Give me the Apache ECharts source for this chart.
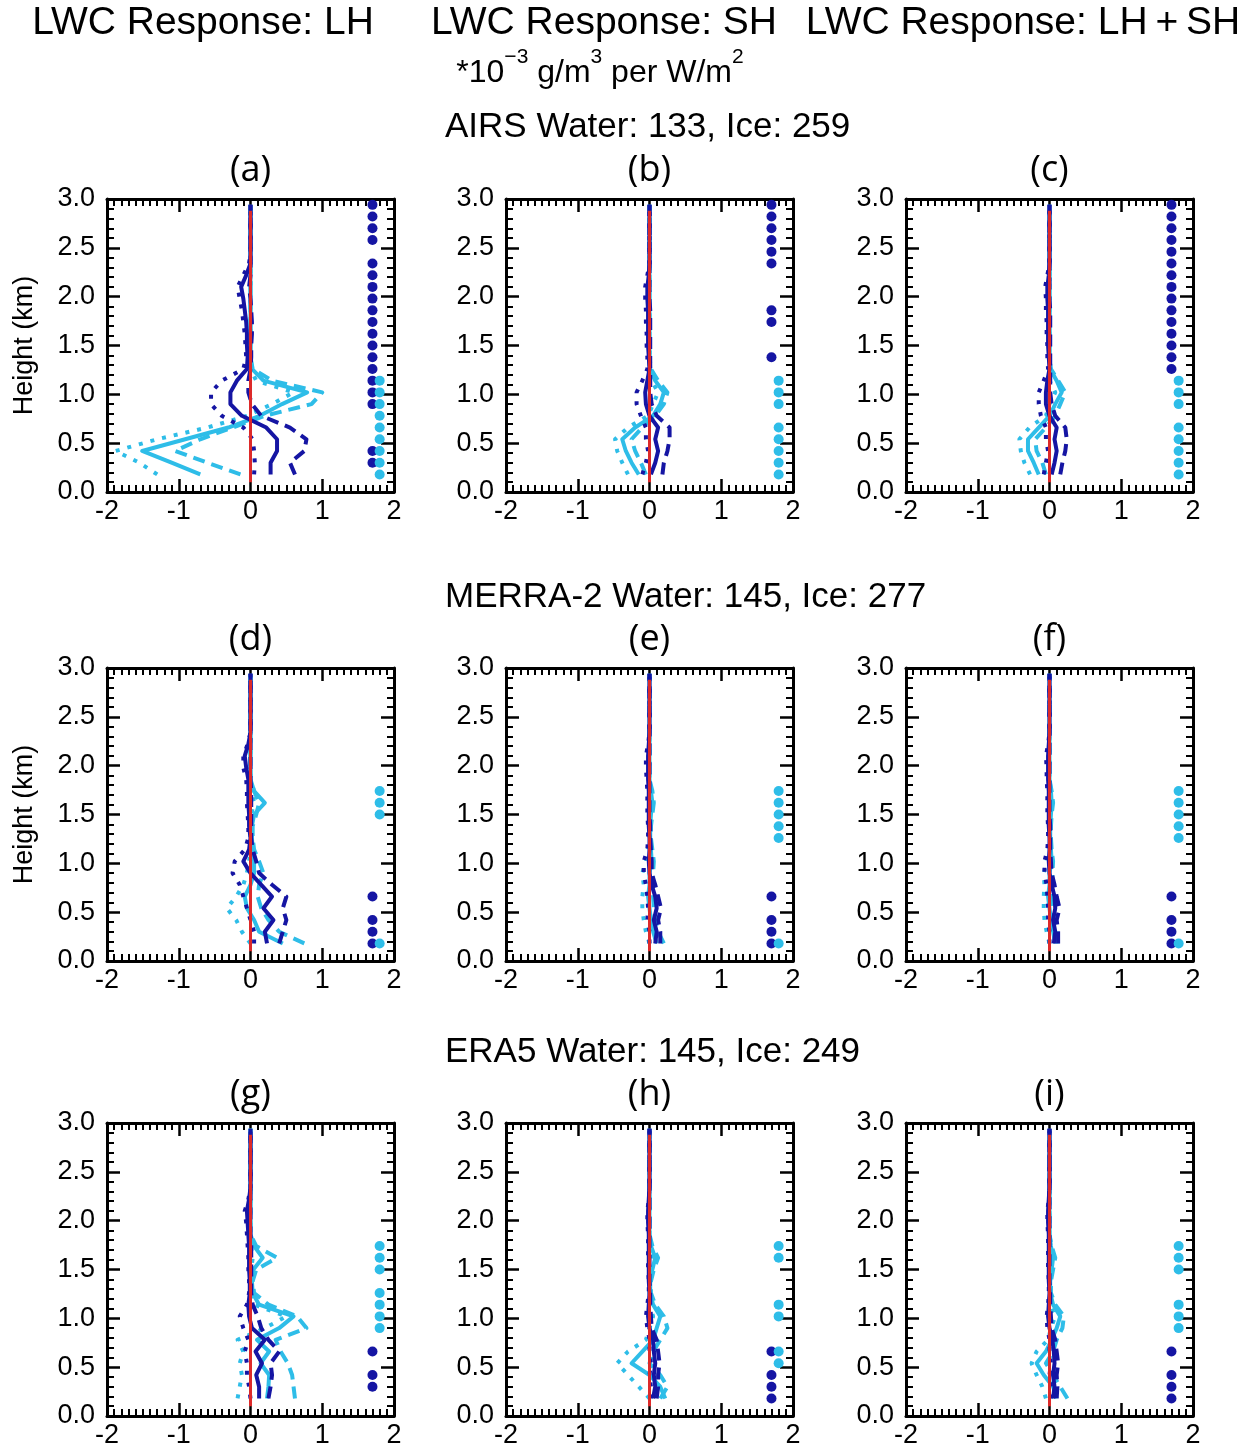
<!DOCTYPE html>
<html><head><meta charset="utf-8">
<script src="https://cdn.jsdelivr.net/npm/echarts@6/dist/echarts.min.js"></script>
<style>html,body{margin:0;padding:0;background:#fff}#c{width:1252px;height:1450px}</style>
</head><body><div id="c"></div>
<script>
// ---------------- DATA ----------------
const heights = [0.18,0.30,0.42,0.54,0.66,0.78,0.90,1.02,1.14,1.26,1.38,1.50,1.62,1.74,1.86,1.98,2.10,2.22,2.34,2.46,2.58,2.70,2.82,2.94];
const xTicks = [-2,-1,0,1,2];
const zeroLineSpan = [0.10, 2.88];
const sigXDark = 1.7, sigXLight = 1.8;

const columnTitles = ['LWC Response: LH','LWC Response: SH','LWC Response: LH\u2009+\u2009SH'];
const rowTitles = ['AIRS Water: 133, Ice: 259','MERRA-2 Water: 145, Ice: 277','ERA5 Water: 145, Ice: 249'];
const panelLabels = ['(a)','(b)','(c)','(d)','(e)','(f)','(g)','(h)','(i)'];

// (a)
const aDS = [0.28,0.28,0.37,0.37,0.22,-0.12,-0.28,-0.28,-0.19,-0.05,-0.04,-0.05,-0.05,-0.06,-0.08,-0.10,-0.13,-0.06,0,0,0,0,0,0];
const aDD = [0.62,0.55,0.75,0.78,0.55,0.15,0.02,-0.03,-0.03,0,0.01,0.01,0.02,0.02,0.01,0,-0.02,0,0,0,0,0,0,0];
const aDT = [0.05,0.06,0.05,0.03,-0.10,-0.40,-0.55,-0.55,-0.40,-0.10,-0.06,-0.07,-0.08,-0.10,-0.12,-0.15,-0.18,-0.10,-0.02,0,0,0,0,0];
const aLS = [-0.70,-1.10,-1.51,-0.91,-0.31,0.13,0.44,0.79,0.18,0.02,0,0,0,0,0,0,0,0,0,0,0,0,0,0];
const aLD = [-0.14,-0.60,-1.05,-0.70,-0.25,0.20,0.85,1.00,0.30,0.03,0,0,0,0,0,0,0,0,0,0,0,0,0,0];
const aLT = [-1.30,-1.55,-1.88,-1.30,-0.60,-0.05,0.30,0.60,0.08,0,0,0,0,0,0,0,0,0,0,0,0,0,0,0];
const aSigDark = [0.30,0.42,0.90,1.02,1.14,1.26,1.38,1.50,1.62,1.74,1.86,1.98,2.10,2.22,2.34,2.58,2.70,2.82,2.94];
const aSigLight = [0.18,0.30,0.42,0.54,0.66,0.78,0.90,1.02,1.14];
// (b)
const bDS = [0.02,0.08,0.12,0.08,0.12,0.00,-0.05,-0.06,-0.03,0,-0.01,-0.02,-0.02,-0.02,-0.02,-0.03,-0.03,-0.01,0,0,0,0,0,0];
const bDD = [0.18,0.20,0.25,0.28,0.28,0.10,0.03,0.01,0.01,0.01,0.01,0.01,0.01,0.01,0.01,0,0,0,0,0,0,0,0,0];
const bDT = [-0.10,-0.05,-0.02,-0.05,-0.05,-0.12,-0.18,-0.18,-0.10,-0.03,-0.03,-0.04,-0.04,-0.05,-0.05,-0.06,-0.06,-0.03,0,0,0,0,0,0];
const bLS = [-0.15,-0.25,-0.33,-0.38,-0.20,0.05,0.15,0.20,0.08,0.01,0,0,0,0,0,0,0,0,0,0,0,0,0,0];
const bLD = [-0.05,-0.12,-0.20,-0.25,-0.10,0.08,0.20,0.25,0.12,0.02,0,0,0,0,0,0,0,0,0,0,0,0,0,0];
const bLT = [-0.30,-0.38,-0.45,-0.48,-0.30,-0.02,0.05,0.12,0.03,0,0,0,0,0,0,0,0,0,0,0,0,0,0,0];
const bSigDark = [1.38,1.74,1.86,2.34,2.46,2.58,2.70,2.82,2.94];
const bSigLight = [0.18,0.30,0.42,0.54,0.66,0.90,1.02,1.14];
// (c)
const cDS = [0.03,0.07,0.10,0.07,0.10,0.00,-0.05,-0.05,-0.03,0,-0.01,-0.02,-0.02,-0.02,-0.02,-0.03,-0.03,-0.01,0,0,0,0,0,0];
const cDD = [0.15,0.18,0.22,0.24,0.22,0.08,0.03,0.01,0.01,0.01,0.01,0.01,0.01,0.01,0.01,0,0,0,0,0,0,0,0,0];
const cDT = [-0.08,-0.05,-0.02,-0.05,-0.05,-0.12,-0.15,-0.15,-0.08,-0.02,-0.03,-0.03,-0.04,-0.04,-0.05,-0.05,-0.06,-0.03,0,0,0,0,0,0];
const cLS = [-0.15,-0.22,-0.30,-0.30,-0.15,0.00,0.08,0.17,0.10,0.01,0,0,0,0,0,0,0,0,0,0,0,0,0,0];
const cLD = [-0.05,-0.10,-0.18,-0.20,-0.05,0.08,0.15,0.22,0.12,0.02,0,0,0,0,0,0,0,0,0,0,0,0,0,0];
const cLT = [-0.27,-0.35,-0.40,-0.42,-0.28,-0.05,0.00,0.08,0.00,0,0,0,0,0,0,0,0,0,0,0,0,0,0,0];
const cSigDark = [1.26,1.38,1.50,1.62,1.74,1.86,1.98,2.10,2.22,2.34,2.46,2.58,2.70,2.82,2.94];
const cSigLight = [0.18,0.30,0.42,0.54,0.66,0.90,1.02,1.14];
// (d)
const dDS = [0.23,0.20,0.32,0.18,0.30,0.15,0.00,-0.10,-0.02,0,-0.02,-0.02,-0.03,-0.03,-0.03,-0.06,-0.08,-0.03,0,0,0,0,0,0];
const dDD = [0.40,0.45,0.50,0.45,0.50,0.30,0.12,0.08,0.03,0.01,0.01,0.01,0.01,0.01,0,0,0,0,0,0,0,0,0,0];
const dDT = [0.05,0.05,0.00,-0.05,-0.10,-0.15,-0.25,-0.22,-0.08,-0.03,-0.03,-0.04,-0.05,-0.05,-0.06,-0.10,-0.10,-0.04,0,0,0,0,0,0];
const dLS = [0.45,0.12,0.05,-0.05,-0.08,0.00,0.05,0.05,0.03,0.02,0.02,0.05,0.20,0.05,0,0,0,0,0,0,0,0,0,0];
const dLD = [0.75,0.40,0.25,0.15,0.10,0.12,0.18,0.12,0.05,0.03,0.03,0.08,0.12,0.05,0,0,0,0,0,0,0,0,0,0];
const dLT = [0.00,-0.12,-0.20,-0.33,-0.20,-0.10,-0.05,-0.02,0,0,0,0.01,0.05,0.01,0,0,0,0,0,0,0,0,0,0];
const dSigDark = [0.18,0.30,0.42,0.66];
const dSigLight = [0.18,1.50,1.62,1.74];
// (e)
const eDS = [0.08,0.10,0.06,0.10,0.08,0.03,0.00,-0.01,0,0,-0.01,-0.01,-0.01,-0.01,-0.02,-0.02,-0.02,-0.01,0,0,0,0,0,0];
const eDD = [0.15,0.15,0.12,0.16,0.12,0.08,0.03,0.03,0.02,0.01,0.01,0,0,0,0,0,0,0,0,0,0,0,0,0];
const eDT = [0.00,0.00,-0.03,-0.02,-0.03,-0.05,-0.08,-0.08,-0.03,-0.02,-0.02,-0.03,-0.03,-0.03,-0.04,-0.05,-0.05,-0.02,0,0,0,0,0,0];
const eLS = [0.10,0.05,0.02,0.00,-0.02,0.00,0.00,0.03,0.02,0.01,0.01,0.02,0.04,0.02,0,0,0,0,0,0,0,0,0,0];
const eLD = [0.20,0.12,0.08,0.06,0.05,0.05,0.05,0.06,0.04,0.02,0.02,0.04,0.06,0.04,0,0,0,0,0,0,0,0,0,0];
const eLT = [0.00,-0.05,-0.08,-0.10,-0.10,-0.08,-0.10,-0.05,-0.02,0,0,0,0.02,0,0,0,0,0,0,0,0,0,0,0];
const eSigDark = [0.18,0.30,0.42,0.66];
const eSigLight = [0.18,1.26,1.38,1.50,1.62,1.74];
// (f)
const fDS = [0.06,0.08,0.05,0.08,0.07,0.03,0.00,-0.01,0,0,-0.01,-0.01,-0.01,-0.01,-0.02,-0.02,-0.02,-0.01,0,0,0,0,0,0];
const fDD = [0.12,0.12,0.10,0.14,0.10,0.07,0.03,0.02,0.01,0.01,0.01,0,0,0,0,0,0,0,0,0,0,0,0,0];
const fDT = [0.00,0.00,-0.02,-0.02,-0.03,-0.04,-0.07,-0.07,-0.03,-0.02,-0.02,-0.03,-0.03,-0.03,-0.04,-0.04,-0.05,-0.02,0,0,0,0,0,0];
const fLS = [0.08,0.05,0.02,0.00,-0.02,0.00,0.00,0.03,0.02,0.01,0.01,0.02,0.03,0.02,0,0,0,0,0,0,0,0,0,0];
const fLD = [0.12,0.10,0.06,0.05,0.04,0.04,0.04,0.05,0.03,0.02,0.02,0.03,0.05,0.03,0,0,0,0,0,0,0,0,0,0];
const fLT = [0.00,-0.04,-0.07,-0.08,-0.08,-0.07,-0.08,-0.04,-0.02,0,0,0,0.01,0,0,0,0,0,0,0,0,0,0,0];
const fSigDark = [0.18,0.30,0.42,0.66];
const fSigLight = [0.18,1.26,1.38,1.50,1.62,1.74];
// (g)
const gDS = [0.12,0.12,0.08,0.16,0.07,0.20,0.02,-0.02,-0.03,-0.01,-0.01,-0.02,-0.02,-0.02,-0.03,-0.04,-0.05,-0.02,0,0,0,0,0,0];
const gDD = [0.25,0.28,0.30,0.28,0.40,0.25,0.15,0.10,0.03,0.01,0.01,0.01,0.01,0.01,0,0,0,0,0,0,0,0,0,0];
const gDT = [0.00,-0.02,-0.05,-0.05,-0.08,-0.03,-0.10,-0.15,-0.05,-0.02,-0.02,-0.03,-0.03,-0.04,-0.05,-0.06,-0.08,-0.03,0,0,0,0,0,0];
const gLS = [0.23,0.25,0.26,0.14,0.26,0.09,0.40,0.60,0.12,0.03,0.02,0.04,0.17,0.05,0,0,0,0,0,0,0,0,0,0];
const gLD = [0.62,0.60,0.58,0.52,0.42,0.35,0.78,0.65,0.25,0.05,0.03,0.08,0.37,0.08,0,0,0,0,0,0,0,0,0,0];
const gLT = [-0.18,-0.15,-0.12,-0.15,-0.10,-0.18,0.20,0.50,0.05,0.01,0.01,0.01,0.03,0.01,0,0,0,0,0,0,0,0,0,0];
const gSigDark = [0.30,0.42,0.66];
const gSigLight = [0.90,1.02,1.14,1.26,1.50,1.62,1.74];
// (h)
const hDS = [0.05,0.08,0.06,0.08,0.06,0.05,0.00,-0.02,-0.01,0,-0.01,-0.01,-0.01,-0.01,-0.01,-0.02,-0.02,-0.01,0,0,0,0,0,0];
const hDD = [0.10,0.12,0.12,0.14,0.12,0.10,0.03,0.02,0.01,0.01,0,0,0,0,0,0,0,0,0,0,0,0,0,0];
const hDT = [0.02,0.02,0.00,0.02,0.00,0.00,-0.03,-0.05,-0.03,-0.01,-0.01,-0.02,-0.02,-0.02,-0.02,-0.03,-0.03,-0.01,0,0,0,0,0,0];
const hLS = [0.22,0.15,0.00,-0.25,-0.10,0.05,0.10,0.15,0.05,0.01,0.01,0.04,0.08,0.02,0,0,0,0,0,0,0,0,0,0];
const hLD = [0.15,0.25,0.15,0.00,0.05,0.15,0.25,0.20,0.08,0.02,0.02,0.06,0.12,0.04,0,0,0,0,0,0,0,0,0,0];
const hLT = [0.00,-0.15,-0.30,-0.45,-0.30,-0.05,0.00,0.05,0.01,0,0,0.01,0.03,0,0,0,0,0,0,0,0,0,0,0];
const hSigDark = [0.18,0.30,0.42,0.66];
const hSigLight = [0.54,0.66,1.02,1.14,1.62,1.74];
// (i)
const iDS = [0.05,0.07,0.05,0.07,0.06,0.04,0.00,-0.02,-0.01,0,-0.01,-0.01,-0.01,-0.01,-0.01,-0.02,-0.02,-0.01,0,0,0,0,0,0];
const iDD = [0.10,0.11,0.10,0.12,0.10,0.08,0.03,0.02,0.01,0.01,0,0,0,0,0,0,0,0,0,0,0,0,0,0];
const iDT = [0.02,0.02,0.00,0.02,0.00,0.00,-0.03,-0.04,-0.02,-0.01,-0.01,-0.02,-0.02,-0.02,-0.02,-0.03,-0.03,-0.01,0,0,0,0,0,0];
const iLS = [0.10,0.05,-0.08,-0.18,-0.05,0.03,0.10,0.15,0.05,0.01,0.01,0.03,0.05,0.02,0,0,0,0,0,0,0,0,0,0];
const iLD = [0.25,0.15,0.05,-0.05,0.05,0.10,0.18,0.20,0.08,0.02,0.02,0.05,0.08,0.03,0,0,0,0,0,0,0,0,0,0];
const iLT = [-0.05,-0.10,-0.18,-0.25,-0.18,-0.02,0.02,0.08,0,0,0,0,0.01,0,0,0,0,0,0,0,0,0,0,0];
const iSigDark = [0.18,0.30,0.42,0.66];
const iSigLight = [0.90,1.02,1.14,1.50,1.62,1.74];

const panels = [
  {ds:aDS,dd:aDD,dt:aDT,ls:aLS,ld:aLD,lt:aLT,sd:aSigDark,sl:aSigLight},
  {ds:bDS,dd:bDD,dt:bDT,ls:bLS,ld:bLD,lt:bLT,sd:bSigDark,sl:bSigLight},
  {ds:cDS,dd:cDD,dt:cDT,ls:cLS,ld:cLD,lt:cLT,sd:cSigDark,sl:cSigLight},
  {ds:dDS,dd:dDD,dt:dDT,ls:dLS,ld:dLD,lt:dLT,sd:dSigDark,sl:dSigLight},
  {ds:eDS,dd:eDD,dt:eDT,ls:eLS,ld:eLD,lt:eLT,sd:eSigDark,sl:eSigLight},
  {ds:fDS,dd:fDD,dt:fDT,ls:fLS,ld:fLD,lt:fLT,sd:fSigDark,sl:fSigLight},
  {ds:gDS,dd:gDD,dt:gDT,ls:gLS,ld:gLD,lt:gLT,sd:gSigDark,sl:gSigLight},
  {ds:hDS,dd:hDD,dt:hDT,ls:hLS,ld:hLD,lt:hLT,sd:hSigDark,sl:hSigLight},
  {ds:iDS,dd:iDD,dt:iDT,ls:iLS,ld:iLD,lt:iLT,sd:iSigDark,sl:iSigLight}
];

// ---------------- LAYOUT / STYLE ----------------
const FONT = '"Liberation Sans", Arial, Helvetica, sans-serif';
const DARK = '#1515a3', LIGHT = '#2ebde8', RED = '#dd2a2a';
const colLeft = [107, 506, 906];
const rowTop = [199, 668, 1123];
const GW = 287, GH = 293;

const grids = [], xAxes = [], yAxes = [], series = [], graphics = [];

function axisCommon(extra) {
  return Object.assign({
    type: 'value',
    axisLine: {show: true, onZero: false, lineStyle: {color: '#000', width: 3}},
    axisTick: {show: true, inside: true, length: 13, lineStyle: {color: '#000', width: 2.5}},
    minorTick: {show: true, length: 7, lineStyle: {color: '#000', width: 2}},
    splitLine: {show: false},
    minorSplitLine: {show: false}
  }, extra);
}

panels.forEach((p, k) => {
  const r = Math.floor(k / 3), c = k % 3;
  grids.push({left: colLeft[c], top: rowTop[r], width: GW, height: GH});
  const xb = axisCommon({gridIndex: k, position: 'bottom', min: xTicks[0], max: xTicks[xTicks.length-1], interval: 1,
    axisLabel: {show: true, color: '#000', fontSize: 27, fontFamily: FONT, margin: 6}});
  xb.minorTick.splitNumber = 10;
  const xt = axisCommon({gridIndex: k, position: 'top', min: xTicks[0], max: xTicks[xTicks.length-1], interval: 1,
    axisLabel: {show: false}});
  xt.minorTick.splitNumber = 10;
  const yl = axisCommon({gridIndex: k, position: 'left', min: 0, max: 3, interval: 0.5,
    axisLabel: {show: true, color: '#000', fontSize: 27, fontFamily: FONT, margin: 12, formatter: v => v.toFixed(1)}});
  yl.minorTick.splitNumber = 5;
  const yr = axisCommon({gridIndex: k, position: 'right', min: 0, max: 3, interval: 0.5, axisLabel: {show: false}});
  yr.minorTick.splitNumber = 5;
  xAxes.push(xb, xt);
  yAxes.push(yl, yr);

  const xi = 2 * k, yi = 2 * k;
  const mk = (vals, color, type) => ({
    type: 'line', xAxisIndex: xi, yAxisIndex: yi, symbol: 'none', silent: true,
    data: heights.map((h, i) => [vals[i], h]),
    lineStyle: {color: color, width: 4, type: type, cap: 'butt', join: 'round'}
  });
  series.push(mk(p.lt, LIGHT, [4, 8]));
  series.push(mk(p.ld, LIGHT, [12, 7]));
  series.push(mk(p.ls, LIGHT, 'solid'));
  series.push(mk(p.dt, DARK, [4, 8]));
  series.push(mk(p.dd, DARK, [12, 7]));
  series.push(mk(p.ds, DARK, 'solid'));
  series.push({type: 'scatter', xAxisIndex: xi, yAxisIndex: yi, symbol: 'circle', symbolSize: 10, silent: true,
    itemStyle: {color: DARK, opacity: 1}, data: p.sd.map(h => [sigXDark, h])});
  series.push({type: 'scatter', xAxisIndex: xi, yAxisIndex: yi, symbol: 'circle', symbolSize: 10, silent: true,
    itemStyle: {color: LIGHT, opacity: 1}, data: p.sl.map(h => [sigXLight, h])});
  series.push({type: 'line', xAxisIndex: xi, yAxisIndex: yi, symbol: 'none', silent: true,
    data: zeroLineSpan.map(h => [0, h]), lineStyle: {color: RED, width: 3}});

  graphics.push({type: 'text', x: colLeft[c] + GW / 2, y: rowTop[r] - 28,
    style: {text: panelLabels[k], font: '36px "Open Sans", "Noto Sans", sans-serif', fill: '#000', align: 'center', verticalAlign: 'middle'}});
});

// column titles
const colTitleX = [203, 604, 1023];
columnTitles.forEach((t, i) => graphics.push({type: 'text', x: colTitleX[i], y: 23,
  style: {text: t, font: '39px ' + FONT, fill: '#000', align: 'center', verticalAlign: 'middle'}}));
// units subtitle
graphics.push({type: 'text', x: 600, y: 68, style: {
  text: '{n|*10}{s|−3}{n| g/m}{s|3}{n| per W/m}{s|2}', align: 'center', verticalAlign: 'middle',
  rich: {
    n: {fontSize: 32, fontFamily: FONT, fill: '#000', verticalAlign: 'bottom', lineHeight: 42},
    s: {fontSize: 21, fontFamily: FONT, fill: '#000', verticalAlign: 'top', lineHeight: 42}
  }}});
// row titles
const rowTitleY = [127, 597, 1052];
rowTitles.forEach((t, i) => graphics.push({type: 'text', x: 445, y: rowTitleY[i],
  style: {text: t, font: '35px ' + FONT, fill: '#000', align: 'left', verticalAlign: 'middle'}}));
// y axis names
[0, 1].forEach(r => graphics.push({type: 'text', x: 25, y: rowTop[r] + GH / 2, rotation: Math.PI / 2,
  style: {text: 'Height (km)', font: '27px ' + FONT, fill: '#000', align: 'center', verticalAlign: 'middle'}}));

const chart = echarts.init(document.getElementById('c'), null, {renderer: 'canvas'});
chart.setOption({
  animation: false,
  backgroundColor: '#fff',
  grid: grids, xAxis: xAxes, yAxis: yAxes, series: series, graphic: graphics
});
</script></body></html>
